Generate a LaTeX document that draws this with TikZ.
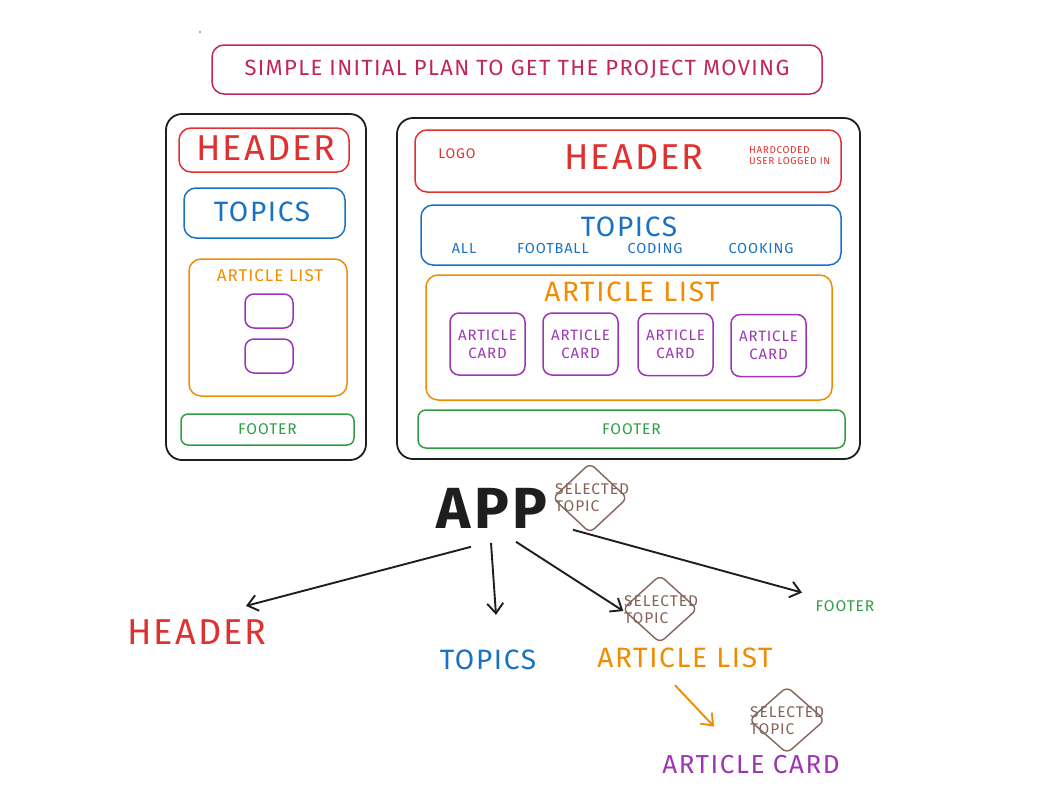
\documentclass[tikz,border=0pt]{standalone}
\usepackage{fontspec}
\setmainfont{Fira Sans}[LetterSpace=6]
\usetikzlibrary{positioning}
\usetikzlibrary{arrows.meta}
\usetikzlibrary{shapes.geometric}
\definecolor{ink}{HTML}{1E1E1E}
\definecolor{excrimson}{HTML}{C2255C}
\definecolor{exred}{HTML}{E03131}
\definecolor{exblue}{HTML}{1971C2}
\definecolor{exorange}{HTML}{F08C00}
\definecolor{expurple}{HTML}{9C36B5}
\definecolor{exgreen}{HTML}{2F9E44}
\definecolor{exbrown}{HTML}{846358}
\tikzset{
        sketch/.style={draw, line width=1.5pt, rounded corners=12pt, inner sep=0pt},
        % Coloured boxes
        box/.style={sketch, draw=#1},
        % Phone and desktop frames
        box_frame/.style={sketch, draw=ink, line width=1.8pt, rounded corners=16pt},
        % Article cards
        box_card/.style={sketch, draw=expurple, rounded corners=9pt, align=center, text=expurple, font=\fontsize{15}{18}\selectfont},
        % Selected topic state
        box_state/.style={diamond, draw=exbrown, line width=1.4pt, rounded corners=6pt, inner sep=0pt},
        % Texts
        txt/.style={inner sep=0pt, align=center, text=#1},
        t_title/.style={txt=excrimson, font=\fontsize{22}{26}\selectfont},
        t_big/.style={txt=#1, font=\fontsize{36}{40}\selectfont},
        t_mid/.style={txt=#1, font=\fontsize{28}{30}\selectfont},
        t_small/.style={txt=#1, font=\fontsize{15.5}{18}\selectfont},
        t_tiny/.style={txt=#1, font=\fontsize{10}{11}\selectfont, align=left},
        t_state/.style={txt=exbrown, font=\fontsize{15.5}{17}\selectfont, align=left},
        arrow_tip/.style={-{Straight Barb[length=10pt, width=16pt]}, line width=1.9pt, draw=#1}
}
\begin{document}
\begin{tikzpicture}[x=1pt, y=-1pt]
    \useasboundingbox (0,0) rectangle (1057,788);
    \fill[excrimson] (200,32) circle (0.8);

    % title
    \node[box=excrimson, minimum width=610, minimum height=49] (title) at (517,69.5) {};
    \node[t_title] (titletxt) at (title) {SIMPLE INITIAL PLAN TO GET THE PROJECT MOVING};

    % mobile layout
    \node[box_frame, minimum width=200, minimum height=346] (phone) at (266,287) {};
    \node[box=exred, minimum width=170, minimum height=44] (phead) at (264,150) {};
    \node[t_big=exred] at (266,148) {HEADER};
    \node[box=exblue, minimum width=161, minimum height=50] (ptopics) at (264.5,213) {};
    \node[t_mid=exblue] at (262,212) {TOPICS};
    \node[box=exorange, minimum width=158, minimum height=137] (plist) at (268,327.5) {};
    \node[t_small=exorange, font=\fontsize{17}{18}\selectfont] at (270,276) {ARTICLE LIST};
    \node[box_card, minimum width=48, minimum height=34] (pcard1) at (269,311) {};
    \node[box_card, minimum width=48, minimum height=34] (pcard2) at (269,356) {};
    \node[box=exgreen, minimum width=173, minimum height=31, rounded corners=7pt] (pfoot) at (267.5,429.5) {};
    \node[t_small=exgreen] at (pfoot) {FOOTER};

    % desktop layout
    \node[box_frame, minimum width=463, minimum height=341] (desk) at (628.5,288.5) {};
    \node[box=exred, minimum width=426, minimum height=62] (dhead) at (628,161) {};
    \node[t_small=exred, font=\fontsize{14}{16}\selectfont] (logo) at (457,154) {LOGO};
    \node[t_big=exred] at (634,157) {HEADER};
    \node[t_tiny=exred, anchor=west] (user) at (749,156) {HARDCODED\\USER LOGGED IN};
    \node[box=exblue, minimum width=420, minimum height=60] (dtopics) at (631,235) {};
    \node[t_mid=exblue] at (629,227) {TOPICS};
    \node[t_small=exblue, font=\fontsize{14.5}{17}\selectfont] (tall) at (464,248) {ALL};
    \node[t_small=exblue, font=\fontsize{14.5}{17}\selectfont] (tfoot) at (553,248) {FOOTBALL};
    \node[t_small=exblue, font=\fontsize{14.5}{17}\selectfont] (tcode) at (655,248) {CODING};
    \node[t_small=exblue, font=\fontsize{14.5}{17}\selectfont] (tcook) at (761,248) {COOKING};
    \node[box=exorange, minimum width=406, minimum height=125] (dlist) at (629,337.5) {};
    \node[t_mid=exorange] at (632,292) {ARTICLE LIST};
    \foreach \cx/\cy [count=\i] in {487.5/344, 580.5/344, 675.5/344.5, 768.5/345.5}
        \node[box_card, minimum width=75, minimum height=62] (dcard\i) at (\cx,\cy) {ARTICLE\\CARD};
    \node[box=exgreen, minimum width=427, minimum height=38, rounded corners=8pt] (dfoot) at (631.5,429) {};
    \node[t_small=exgreen] at (dfoot) {FOOTER};

    % component tree
    \node[txt=ink, font=\fontsize{58}{62}\selectfont\bfseries] (app) at (492,508) {APP};
    \node[box_state, minimum width=75, minimum height=70] (state1) at (590,498) {};
    \node[t_state, anchor=west] at (555,498) {SELECTED\\TOPIC};

    \node[t_big=exred] (chead) at (197,632) {HEADER};
    \node[t_mid=exblue] (ctopics) at (488,660) {TOPICS};
    \node[t_mid=exorange] (clist) at (685,658) {ARTICLE LIST};
    \node[t_small=exgreen] (cfoot) at (845,606) {FOOTER};
    \node[t_mid=expurple, font=\fontsize{26}{30}\selectfont] (ccard) at (751,765) {ARTICLE CARD};

    \node[box_state, minimum width=75, minimum height=68] (state2) at (660,609) {};
    \node[t_state, anchor=west] at (624,610) {SELECTED\\TOPIC};
    \node[box_state, minimum width=76, minimum height=67] (state3) at (787,720) {};
    \node[t_state, anchor=west] at (750,721) {SELECTED\\TOPIC};

    \draw[arrow_tip=ink] ([shift={(-21,18.5)}]app.south) -- ([shift={(49,-13.5)}]chead.north);
    \draw[arrow_tip=ink] ([shift={(-1,14.5)}]app.south) -- ([shift={(8,-35)}]ctopics.north);
    \draw[arrow_tip=ink] ([shift={(24,13.5)}]app.south) -- ([shift={(1.5,2)}]state2.west);
    \draw[arrow_tip=ink] ([shift={(81,1.5)}]app.south) -- ([shift={(-13.5,-7.7)}]cfoot.north west);
    \draw[arrow_tip=exorange] ([shift={(-10,17)}]clist.south) -- ([shift={(-37,-29)}]ccard.north);
\end{tikzpicture}
\end{document}
